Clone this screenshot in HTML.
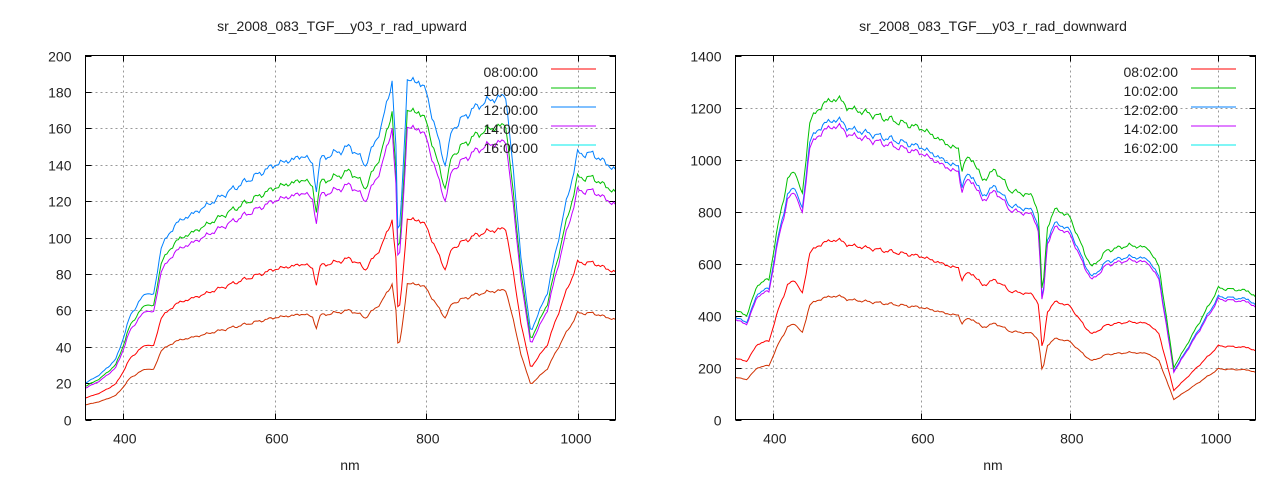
<!DOCTYPE html>
<html><head><meta charset="utf-8"><style>
html,body{margin:0;padding:0;background:#fff;}
svg{display:block;font-family:"Liberation Sans",sans-serif;}
</style></head><body>
<svg id="s" width="1280" height="480" xmlns="http://www.w3.org/2000/svg">
<rect width="1280" height="480" fill="#fff"/>
<g id="grid"></g>
<g id="lines" fill="none" stroke-width="1"></g>
<g font-size="14" fill="#222">
<text x="342" y="31" text-anchor="middle">sr_2008_083_TGF__y03_r_rad_upward</text>
<text x="993" y="31" text-anchor="middle">sr_2008_083_TGF__y03_r_rad_downward</text>
<text x="350" y="470" text-anchor="middle">nm</text>
<text x="993" y="470" text-anchor="middle">nm</text>
</g>
<g font-size="14" fill="#222" text-anchor="end" id="lab"></g>
<g font-size="14" fill="#222" text-anchor="end">
<text x="538" y="77">08:00:00</text><text x="538" y="96">10:00:00</text><text x="538" y="115">12:00:00</text><text x="538" y="134">14:00:00</text><text x="538" y="153">16:00:00</text>
<text x="1178" y="77">08:02:00</text><text x="1178" y="96">10:02:00</text><text x="1178" y="115">12:02:00</text><text x="1178" y="134">14:02:00</text><text x="1178" y="153">16:02:00</text>
</g>
<g stroke-width="1">
<line x1="551" y1="69" x2="596" y2="69" stroke="#ff0000"/><line x1="551" y1="88" x2="596" y2="88" stroke="#00c000"/><line x1="551" y1="107" x2="596" y2="107" stroke="#0080ff"/><line x1="551" y1="126" x2="596" y2="126" stroke="#c000ff"/><line x1="551" y1="145" x2="596" y2="145" stroke="#00eeee"/>
<line x1="1191" y1="69" x2="1236" y2="69" stroke="#ff0000"/><line x1="1191" y1="88" x2="1236" y2="88" stroke="#00c000"/><line x1="1191" y1="107" x2="1236" y2="107" stroke="#0080ff"/><line x1="1191" y1="126" x2="1236" y2="126" stroke="#c000ff"/><line x1="1191" y1="145" x2="1236" y2="145" stroke="#00eeee"/>
</g>
<g fill="none" stroke="#000" stroke-width="1">
<rect x="85.5" y="55.5" width="530" height="364"/>
<rect x="735.5" y="55.5" width="520" height="364"/>
</g>
</svg>
<script>
var NS="http://www.w3.org/2000/svg";
function el(p,t,a,txt){var e=document.createElementNS(NS,t);for(var k in a)e.setAttribute(k,a[k]);if(txt!=null)e.textContent=txt;p.appendChild(e);return e;}
var grid=document.getElementById('grid'),lab=document.getElementById('lab'),lines=document.getElementById('lines');
function axes(x0,x1,y0,y1,ymax,ystep){
 var fx=function(n){return x0+(n-350)/700*(x1-x0)};
 var fy=function(v){return y1-v/ymax*(y1-y0)};
 for(var v=0;v<=ymax;v+=ystep){var y=Math.round(fy(v))+0.5;
  if(v>0&&v<ymax)el(grid,'line',{x1:x0,x2:x1,y1:y,y2:y,stroke:'#999','stroke-dasharray':'2,3'});
  el(grid,'line',{x1:x0,x2:x0+6,y1:y,y2:y,stroke:'#000'});el(grid,'line',{x1:x1-6,x2:x1,y1:y,y2:y,stroke:'#000'});
  el(lab,'text',{x:x0-14,y:y+5},String(v));}
 for(var n=400;n<=1000;n+=200){var x=Math.round(fx(n))+0.5;
  el(grid,'line',{x1:x,x2:x,y1:y0,y2:y1,stroke:'#999','stroke-dasharray':'2,3'});
  el(grid,'line',{x1:x,x2:x,y1:y1-6,y2:y1,stroke:'#000'});el(grid,'line',{x1:x,x2:x,y1:y0,y2:y0+6,stroke:'#000'});
  var t=el(lab,'text',{x:x+13,y:y1+24},String(n));}
 return [fx,fy];
}
function interp(pts,n){for(var i=1;i<pts.length;i++){if(n<=pts[i][0]){var a=pts[i-1],b=pts[i];return a[1]+(b[1]-a[1])*(n-a[0])/(b[0]-a[0]);}}return pts[pts.length-1][1];}
function noise(n,seed){return Math.sin(n*0.9+seed)*0.5+Math.sin(n*0.37+seed*2)*0.7+Math.sin(n*2.1)*0.3;}
function draw(f,pts,scales,amp){
 for(var s=0;s<scales.length;s++){var d='';
  for(var n=350;n<=1050;n+=2.5){var v=interp(pts,n)*scales[s][0]*(1+amp*noise(n,1));
   d+=(n==350?'M':'L')+f[0](n).toFixed(1)+','+f[1](v).toFixed(1);}
  el(lines,'path',{d:d,stroke:scales[s][1]});}
}
var up=[[350,20],[370,25],[390,33],[400,45],[410,58],[430,70],[440,68],[450,95],[470,108],[500,115],[550,128],[600,140],[640,145],[650,140],[655,126],[660,143],[700,150],[720,140],[740,160],[755,186],[760,150],[763,95],[768,125],[775,186],[790,186],[800,180],[815,155],[825,140],[835,160],[860,170],[880,175],[905,178],[912,150],[925,90],[938,48],[960,70],[980,110],[1000,146],[1020,146],[1040,140],[1050,137]];
var dn=[[350,420],[365,400],[380,520],[395,540],[410,790],[420,920],[430,960],[440,860],[450,1150],[470,1220],[490,1235],[500,1200],[550,1160],[600,1120],[640,1050],[650,1040],[655,960],[660,1000],[670,1000],[682,920],[700,960],[720,880],[750,860],[758,790],[763,470],[770,740],[780,810],[800,780],[820,640],[830,585],[850,650],[880,670],[905,660],[920,590],[940,200],[960,300],[1000,505],[1040,495],[1050,470]];
var L=axes(85.5,615.5,55.5,419.5,200,20);
draw(L,up,[[0.4,'#d03000'],[0.59,'#ff0000'],[0.91,'#00c000'],[0.86,'#c000ff'],[1,'#0080ff']],0.012);
var R=axes(735.5,1255.5,55.5,419.5,1400,200);
draw(R,dn,[[0.385,'#d03000'],[0.56,'#ff0000'],[0.935,'#0080ff'],[0.915,'#c000ff'],[1,'#00c000']],0.01);
</script>
</body></html>
